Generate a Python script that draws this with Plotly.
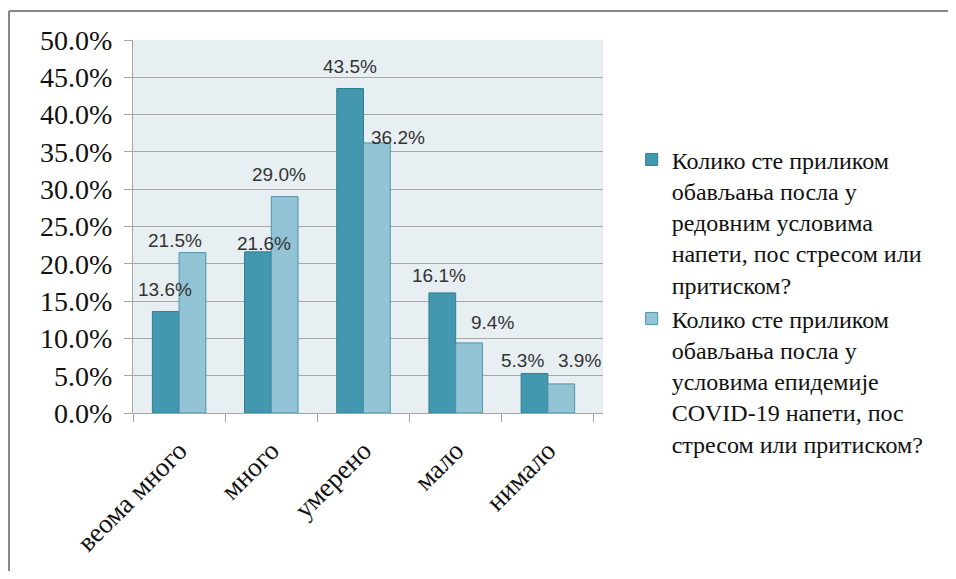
import plotly.graph_objects as go

# Категорії та значення (у відсотках)
categories = ["веома много", "много", "умерено", "мало", "нимало"]
regular = [13.6, 21.6, 43.5, 16.1, 5.3]
covid = [21.5, 29.0, 36.2, 9.4, 3.9]

name_regular = ("Колико сте приликом<br>обављања посла у<br>редовним условима"
                "<br>напети, пос стресом или<br>притиском?")
name_covid = ("Колико сте приликом<br>обављања посла у<br>условима епидемије"
              "<br>COVID-19 напети, пос<br>стресом или притиском?")

# Ручні зсуви підписів даних (пікселі), як на оригіналі
regular_label_shift = [(0, 22), (6, 8), (0, 22), (-3, 17), (-12, 13)]
covid_label_shift = [(-18, 12), (-6, 22), (21, 5), (23, 20), (18, 23)]

SERIF = "Liberation Serif, serif"
SANS = "Liberation Sans, sans-serif"

# Розміри (сторінка має відступ body 8 px, тож фігура менша на 16 px)
PLOT_L, PLOT_T, PLOT_W, PLOT_H = 125, 32, 470, 373
FIG_W, FIG_H = 940, 563
BARGAP = 0.42
half_bar = PLOT_W / len(categories) * (1 - BARGAP) / 4

fig = go.Figure()

fig.add_trace(go.Bar(
    x=categories, y=regular, name=name_regular,
    marker=dict(color="#4397ae", line=dict(color="#2f7f94", width=1)),
))
fig.add_trace(go.Bar(
    x=categories, y=covid, name=name_covid,
    marker=dict(color="#93c4d5", line=dict(color="#4e93a8", width=1)),
))

# Підписи даних
annotations = []
for values, shifts, side in ((regular, regular_label_shift, -1),
                             (covid, covid_label_shift, 1)):
    for cat, v, (dx, dy) in zip(categories, values, shifts):
        annotations.append(dict(
            x=cat, y=v, xref="x", yref="y",
            text=f"{v:.1f}%", showarrow=False,
            xshift=side * half_bar + dx, yshift=dy,
            xanchor="center", yanchor="middle",
            font=dict(family=SANS, size=19, color="#333"),
        ))

# Рамка: лише верхня та ліва лінії (інші за межами кадру)
frame = dict(color="#888888", width=2)
shapes = [
    dict(type="line", xref="paper", yref="paper",
         x0=-0.2638, x1=1.9, y0=1.0777, y1=1.0777, line=frame),
    dict(type="line", xref="paper", yref="paper",
         x0=-0.2638, x1=-0.2638, y0=-0.6, y1=1.0777, line=frame),
]

fig.update_layout(
    width=FIG_W, height=FIG_H,
    margin=dict(l=PLOT_L, r=FIG_W - PLOT_L - PLOT_W, t=PLOT_T,
                b=FIG_H - PLOT_T - PLOT_H, autoexpand=False),
    paper_bgcolor="white",
    plot_bgcolor="#e8eff3",
    font=dict(family=SERIF, color="#111"),
    barmode="group",
    bargap=BARGAP,
    bargroupgap=0,
    showlegend=True,
    legend=dict(
        x=1.061, y=0.739, xanchor="left", yanchor="top",
        valign="top",
        font=dict(family=SERIF, size=24, color="#111"),
        bgcolor="rgba(0,0,0,0)",
        tracegroupgap=16,
    ),
    annotations=annotations,
    shapes=shapes,
)

fig.update_yaxes(
    range=[0, 50], dtick=5, tickformat=".1f", ticksuffix="%",
    showgrid=True, gridcolor="#a6a6a6", gridwidth=1,
    showline=True, linecolor="#a6a6a6", linewidth=1,
    ticks="outside", ticklen=8, tickcolor="#a6a6a6",
    ticklabelstandoff=6,
    tickfont=dict(family=SERIF, size=28, color="#111"),
    zeroline=False, automargin=False,
)
fig.update_xaxes(
    showline=True, linecolor="#a6a6a6", linewidth=1,
    ticks="outside", ticklen=8, tickcolor="#a6a6a6",
    tickson="boundaries", tickangle=-45,
    ticklabelstandoff=10,
    tickfont=dict(family=SERIF, size=27, color="#111"),
    mirror=False, automargin=False,
)

fig.write_html("out.html")
